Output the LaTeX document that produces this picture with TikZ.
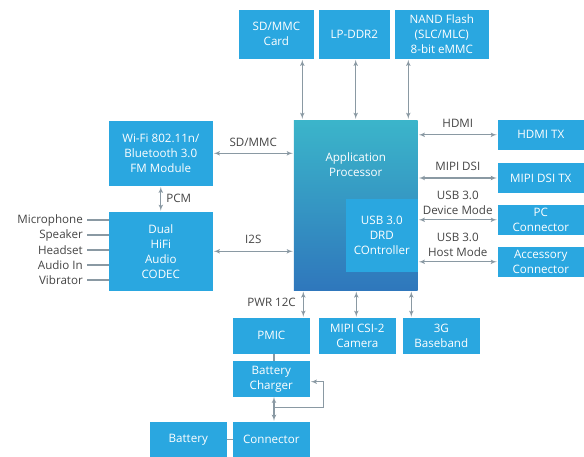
\documentclass[tikz,border=0pt]{standalone}
\usepackage{fontspec}
\setmainfont{Open Sans}
\usetikzlibrary{arrows}
\definecolor{boxblue}{HTML}{2AA7E0}
\definecolor{proctop}{HTML}{3BB5CA}
\definecolor{procbot}{HTML}{2F77BC}
\definecolor{linegray}{HTML}{8A99A3}
\definecolor{textgray}{HTML}{454545}

\begin{document}
\begin{tikzpicture}[x=1pt, y=-1pt, font=\fontsize{11.6}{15}\selectfont,
  blk/.style={fill=boxblue, text=white, align=center, inner sep=0pt},
  bus/.style={draw=linegray, line width=1.1pt, latex'-latex', shorten <=1pt, shorten >=1pt},
  wire/.style={draw=linegray, line width=1.1pt},
  lbl/.style={text=textgray, align=center, inner sep=0pt}]
%Canvas
\useasboundingbox[fill=white] (0,0) rectangle (584,457);
% Memory and storage (top row)
\node[blk, minimum width=74.7pt, minimum height=48.7pt] (sdcard) at (276.4,34.3) {SD/MMC\\Card};
\node[blk, minimum width=70.7pt, minimum height=48.7pt] (lpddr) at (354.3,34.3) {LP-DDR2};
\node[blk, minimum width=93.7pt, minimum height=48.7pt] (nand) at (441.8,34.3) {NAND Flash\\(SLC/MLC)\\8-bit eMMC};
% Application processor with USB controller inside
\node[minimum width=123.7pt, minimum height=170.3pt, top color=proctop, bottom color=procbot, inner sep=0pt] (proc) at (355.8,205.2) {};
\node[text=white, align=center, inner sep=0pt] (proctext) at (355.8,165) {Application\\Processor};
\node[blk, minimum width=71.7pt, minimum height=72.7pt] (usb) at (381.8,235.3) {USB 3.0\\DRD\\COntroller};
% Left side
\node[blk, minimum width=103.7pt, minimum height=64.7pt] (wifi) at (160.8,153.3) {Wi-Fi 802.11n/\\Bluetooth 3.0\\FM Module};
\node[blk, minimum width=103.7pt, minimum height=78.7pt] (codec) at (160.8,251.3) {Dual\\HiFi\\Audio\\CODEC};
% Right side
\node[blk, minimum width=85.7pt, minimum height=29.7pt] (hdmi) at (540.8,134.8) {HDMI TX};
\node[blk, minimum width=85.7pt, minimum height=29.4pt] (dsi) at (540.8,178) {MIPI DSI TX};
\node[blk, minimum width=85.7pt, minimum height=29.7pt] (pc) at (540.8,219.8) {PC\\Connector};
\node[blk, minimum width=85.7pt, minimum height=29.7pt] (acc) at (540.8,261.8) {Accessory\\Connector};
% Bottom row
\node[blk, minimum width=76.7pt, minimum height=35.7pt] (pmic) at (271.3,335.8) {PMIC};
\node[blk, minimum width=76.7pt, minimum height=35.7pt] (csi) at (357.3,335.8) {MIPI CSI-2\\Camera};
\node[blk, minimum width=76.7pt, minimum height=35.7pt] (bb) at (441.3,335.8) {3G\\Baseband};
\node[blk, minimum width=76.7pt, minimum height=35.7pt] (charger) at (271.3,378.8) {Battery\\Charger};
\node[blk, minimum width=76.7pt, minimum height=35pt] (conn) at (271.3,439.5) {Connector};
\node[blk, minimum width=76.7pt, minimum height=35pt] (battery) at (188.3,439.5) {Battery};

% Buses to the top row and the bottom row
\foreach \xpos/\mem in {302.3/sdcard, 355.7/lpddr, 408.3/nand}
  \draw[bus] (\xpos,0 |- \mem.south) -- (\xpos,0 |- proc.north);
\foreach \xpos/\dev in {303.3/pmic, 356.3/csi, 411.3/bb}
  \draw[bus] (\xpos,0 |- proc.south) -- (\xpos,0 |- \dev.north);
% Buses to the left
\draw[bus] (wifi.east) -- (wifi.east -| proc.west) node[lbl, midway, above=6pt] {SD/MMC};
\draw[bus] (wifi.south) -- (codec.north) node[lbl, midway, right=5pt] {PCM};
\draw[bus] (codec.east) -- (codec.east -| proc.west) node[lbl, midway, above=7pt] {I2S};
% Buses to the right
\draw[bus] (proc.east |- hdmi.west) -- (hdmi.west) node[lbl, midway, above=7pt] {HDMI};
\draw[bus] (proc.east |- dsi.west) -- (dsi.west) node[lbl, midway, above=7pt] {MIPI DSI};
\draw[bus] (usb.east |- pc.west) -- (pc.west) node[lbl, midway, above=5pt] {USB 3.0\\Device Mode};
\draw[bus] (usb.east |- acc.west) -- (acc.west) node[lbl, midway, above=5pt] {USB 3.0\\Host Mode};
\node[lbl, anchor=east] (pwr) at (296,302.7) {PWR 12C};
% Audio ports
\foreach \ypos/\port in {220/Microphone, 235/Speaker, 250/Headset, 265/Audio In, 280/Vibrator}{
  \node[lbl, anchor=east] (port\ypos) at (83,\ypos) {\port};
  \draw[wire] (87,\ypos) -- (codec.west |- 0,\ypos);
}
% Power path
\draw[wire] (274,0 |- pmic.south) -- (274,0 |- charger.north);
\draw[wire] (battery.east) -- (conn.west);
\coordinate (split) at (274,407.7);
\draw[bus, shorten <=0pt] (274,0 |- charger.south) -- (274,0 |- conn.north);
\draw[wire, -latex', shorten >=1pt] (split) -- (323.3,407.7) -- (323.3,381.7) -- (charger.east |- 0,381.7);
\end{tikzpicture}
\end{document}
